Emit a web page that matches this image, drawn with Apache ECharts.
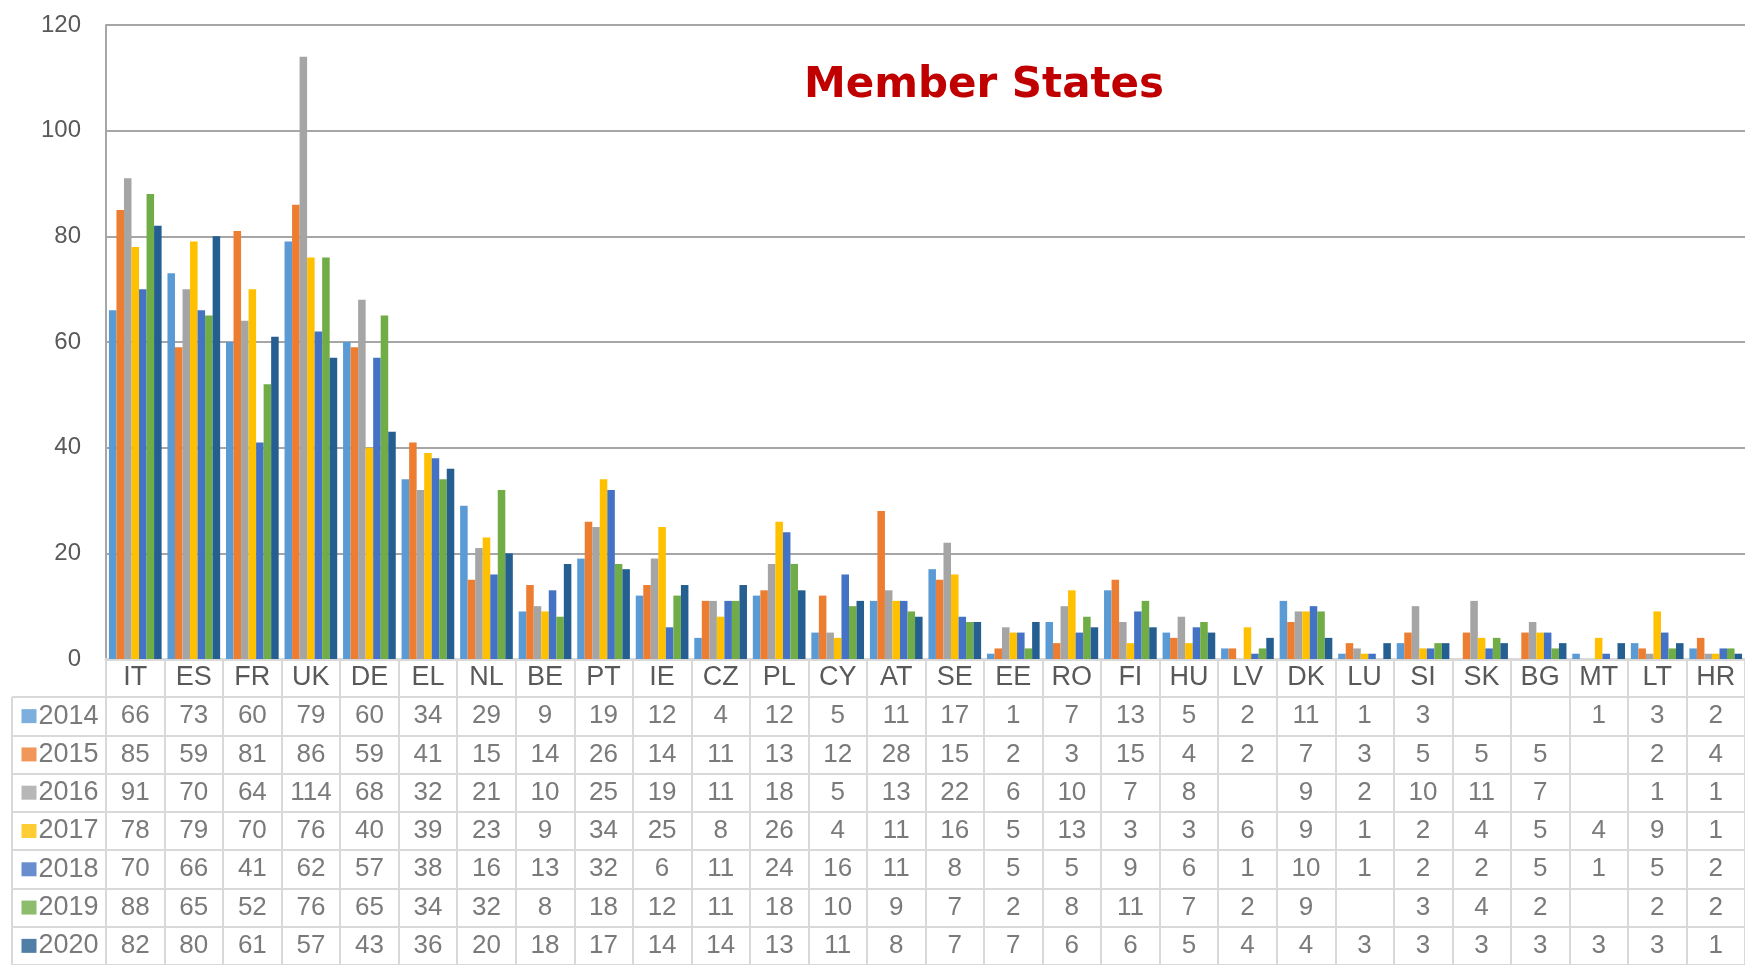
<!DOCTYPE html>
<html>
<head>
    <meta charset="utf-8">
    <title>Member States</title>
    <script src="https://cdn.jsdelivr.net/npm/echarts@6/dist/echarts.min.js"></script>
    <style>
        body { margin: 0; background: #fff; }
        #chart { width: 1745px; height: 965px; }
    </style>
</head>
<body>
<div id="chart"></div>
<script>
// categories and yearly values (null = empty cell)
const countries = ['IT','ES','FR','UK','DE','EL','NL','BE','PT','IE','CZ','PL','CY','AT','SE','EE','RO','FI','HU','LV','DK','LU','SI','SK','BG','MT','LT','HR'];
const years = ['2014','2015','2016','2017','2018','2019','2020'];
const colors = ['#5B9BD5','#ED7D31','#A5A5A5','#FFC000','#4472C4','#70AD47','#255E91'];

const v2014 = [66,73,60,79,60,34,29,9,19,12,4,12,5,11,17,1,7,13,5,2,11,1,3,null,null,1,3,2];
const v2015 = [85,59,81,86,59,41,15,14,26,14,11,13,12,28,15,2,3,15,4,2,7,3,5,5,5,null,2,4];
const v2016 = [91,70,64,114,68,32,21,10,25,19,11,18,5,13,22,6,10,7,8,null,9,2,10,11,7,null,1,1];
const v2017 = [78,79,70,76,40,39,23,9,34,25,8,26,4,11,16,5,13,3,3,6,9,1,2,4,5,4,9,1];
const v2018 = [70,66,41,62,57,38,16,13,32,6,11,24,16,11,8,5,5,9,6,1,10,1,2,2,5,1,5,2];
const v2019 = [88,65,52,76,65,34,32,8,18,12,11,18,10,9,7,2,8,11,7,2,9,null,3,4,2,null,2,2];
const v2020 = [82,80,61,57,43,36,20,18,17,14,14,13,11,8,7,7,6,6,5,4,4,3,3,3,3,3,3,1];
const allValues = [v2014, v2015, v2016, v2017, v2018, v2019, v2020];

const yTicks = { min: 0, max: 120, interval: 20 };

const textGray = '#595959';
const gridGray = '#a6a6a6';
const tableGray = '#d9d9d9';
const font = 'Liberation Sans, Arial, sans-serif';

// bars
const barSeries = years.map((y, i) => ({
    type: 'bar',
    name: y,
    xAxisIndex: 0,
    yAxisIndex: 0,
    data: allValues[i],
    itemStyle: { color: colors[i] },
    barGap: '0%',
    barCategoryGap: '10%'
}));

// table cells
const cellData = [];
allValues.forEach((row, r) => {
    row.forEach((val, c) => {
        if (val !== null) cellData.push([c, r + 0.5, val]);
    });
});

const legendRich = {};
colors.forEach((c, i) => {
    legendRich['s' + i] = { width: 15, height: 14, backgroundColor: c };
});
legendRich.t = { fontSize: 27, color: textGray, fontFamily: font, padding: [0, 0, 0, 2] };

let chart = echarts.init(document.getElementById('chart'));
let option = {
    animation: false,
    title: {
        text: 'Member States',
        left: 979,
        top: 60,
        textAlign: 'center',
        textStyle: {
            color: '#C00000',
            fontSize: 42,
            fontWeight: 'bold',
            fontFamily: 'DejaVu Sans, Verdana, sans-serif'
        }
    },
    grid: [
        { left: 106, right: 0, top: 25, bottom: 306 },
        { left: 106, right: 0, top: 697, height: 273 },
        { left: 12, width: 94, top: 697, height: 273 }
    ],
    xAxis: [{
        type: 'category',
        gridIndex: 0,
        data: countries,
        axisLine: { lineStyle: { color: tableGray, width: 3 } },
        axisTick: { show: true, interval: 0, length: 38, lineStyle: { color: tableGray, width: 2 } },
        axisLabel: {
            interval: 0,
            color: textGray,
            fontSize: 27,
            fontFamily: font,
            margin: 19,
            verticalAlign: 'middle'
        }
    }, {
        type: 'category',
        gridIndex: 1,
        data: countries,
        axisLine: { show: false },
        axisTick: { show: false },
        axisLabel: { show: false },
        splitLine: { show: true, interval: 0, lineStyle: { color: tableGray, width: 2 } }
    }, {
        type: 'value',
        gridIndex: 2,
        min: 0,
        max: 1,
        interval: 1,
        axisLine: { show: false },
        axisTick: { show: false },
        axisLabel: { show: false },
        splitLine: { show: true, lineStyle: { color: tableGray, width: 2 } }
    }],
    yAxis: [{
        type: 'value',
        gridIndex: 0,
        min: yTicks.min,
        max: yTicks.max,
        interval: yTicks.interval,
        axisLine: { show: true, lineStyle: { color: gridGray, width: 2 } },
        axisTick: { show: false },
        axisLabel: { color: textGray, fontSize: 24, fontFamily: font, margin: 25 },
        splitLine: { lineStyle: { color: gridGray, width: 2 } }
    }, {
        type: 'value',
        gridIndex: 1,
        inverse: true,
        min: 0,
        max: 7,
        interval: 1,
        axisLine: { show: false },
        axisTick: { show: false },
        axisLabel: { show: false },
        splitLine: { show: true, lineStyle: { color: tableGray, width: 2 } }
    }, {
        type: 'value',
        gridIndex: 2,
        inverse: true,
        min: 0,
        max: 7,
        interval: 1,
        axisLine: { show: false },
        axisTick: { show: false },
        axisLabel: { show: false },
        splitLine: { show: true, lineStyle: { color: tableGray, width: 2 } }
    }],
    series: barSeries.concat([{
        type: 'scatter',
        xAxisIndex: 1,
        yAxisIndex: 1,
        symbolSize: 1,
        itemStyle: { color: 'rgba(0,0,0,0)' },
        data: cellData,
        label: {
            show: true,
            position: 'inside',
            formatter: p => p.value[2],
            color: textGray,
            fontSize: 26,
            fontFamily: font
        }
    }, {
        type: 'scatter',
        xAxisIndex: 2,
        yAxisIndex: 2,
        symbolSize: 1,
        itemStyle: { color: 'rgba(0,0,0,0)' },
        data: years.map((y, i) => [0, i + 0.5, i]),
        label: {
            show: true,
            position: 'right',
            distance: 9,
            formatter: p => `{s${p.value[2]}|}{t|${years[p.value[2]]}}`,
            rich: legendRich
        }
    }])
};

chart.setOption(option);
</script>
</body>
</html>
